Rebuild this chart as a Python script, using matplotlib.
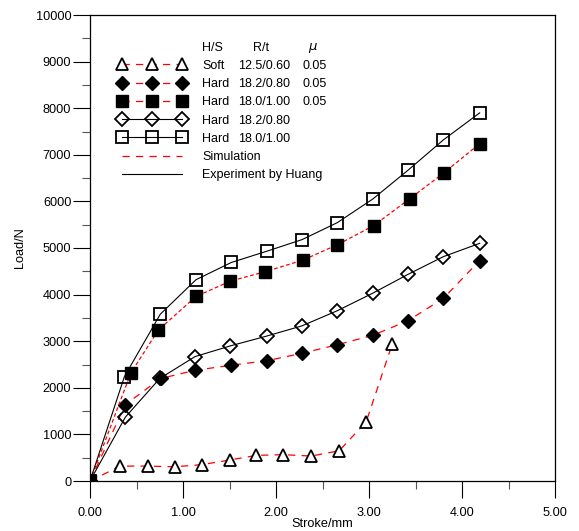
import matplotlib
matplotlib.use('Agg')
import matplotlib.pyplot as plt
from matplotlib.lines import Line2D
from matplotlib.ticker import MultipleLocator, FormatStrFormatter

plt.rcParams['font.family'] = ['Liberation Sans', 'DejaVu Sans']

# Hard 18.0/1.00 - experiment (open squares)
exp_sq_x = [0, 0.37, 0.756, 1.14, 1.52, 1.90, 2.28, 2.66, 3.04, 3.42, 3.80, 4.19]
exp_sq_y = [0, 2240, 3580, 4320, 4690, 4930, 5180, 5545, 6050, 6670, 7320, 7900]
# Hard 18.0/1.00 - simulation (filled squares)
sim_sq_x = [0, 0.44, 0.735, 1.14, 1.51, 1.88, 2.29, 2.66, 3.05, 3.44, 3.81, 4.19]
sim_sq_y = [0, 2320, 3240, 3960, 4290, 4490, 4740, 5070, 5480, 6060, 6620, 7240]
# Hard 18.2/0.80 - experiment (open diamonds)
exp_dia_x = [0, 0.38, 0.75, 1.13, 1.51, 1.90, 2.28, 2.66, 3.04, 3.42, 3.80, 4.19]
exp_dia_y = [0, 1370, 2200, 2670, 2900, 3110, 3330, 3655, 4030, 4435, 4815, 5100]
# Hard 18.2/0.80 - simulation (filled diamonds)
sim_dia_x = [0, 0.38, 0.76, 1.13, 1.52, 1.90, 2.28, 2.66, 3.04, 3.42, 3.80, 4.19]
sim_dia_y = [0, 1640, 2200, 2375, 2485, 2580, 2740, 2925, 3125, 3440, 3920, 4730]
# Soft 12.5/0.60 - simulation (triangles)
soft_x = [0, 0.325, 0.62, 0.91, 1.20, 1.50, 1.79, 2.08, 2.38, 2.68, 2.97, 3.25]
soft_y = [0, 320, 320, 305, 350, 450, 550, 565, 535, 650, 1270, 2940]

col_hs = ['H/S', 'Soft', 'Hard', 'Hard', 'Hard', 'Hard', 'Simulation', 'Experiment by Huang']
col_rt = ['R/t', '12.5/0.60', '18.2/0.80', '18.0/1.00', '18.2/0.80', '18.0/1.00', '', '']
col_mu = [r'$\mu$', '0.05', '0.05', '0.05', '', '', '', '']

dash = (0, (5.8, 5))
dot = (0, (3, 2))
fs = 9.2
lfs = 9
dms = 7.5

fig = plt.figure(figsize=(5.79, 5.31), dpi=100)
ax = fig.add_axes([90/579, 50/531, 465/579, 466/531])

ax.plot(soft_x, soft_y, color='red', ls=dash, lw=0.9, marker='^', ms=9,
        mfc='white', mec='black', mew=1.3, zorder=3)
ax.plot(sim_dia_x, sim_dia_y, color='red', ls=dash, lw=0.9, marker='D', ms=dms,
        mfc='black', mec='black', zorder=3)
ax.plot(exp_dia_x, exp_dia_y, color='black', ls='-', lw=0.8, marker='D', ms=dms,
        mfc='none', mec='black', mew=1.3, zorder=3)
ax.plot(sim_sq_x, sim_sq_y, color='red', ls=dot, lw=0.9, marker='s', ms=8,
        mfc='black', mec='black', zorder=3)
ax.plot(exp_sq_x, exp_sq_y, color='black', ls='-', lw=0.8, marker='s', ms=8,
        mfc='none', mec='black', mew=1.3, zorder=3)

ax.set_xlim(0, 5)
ax.set_ylim(0, 10000)
ax.xaxis.set_major_locator(MultipleLocator(1))
ax.xaxis.set_minor_locator(MultipleLocator(0.5))
ax.yaxis.set_major_locator(MultipleLocator(1000))
ax.yaxis.set_minor_locator(MultipleLocator(500))
ax.xaxis.set_major_formatter(FormatStrFormatter('%.2f'))
ax.tick_params(which='major', direction='out', length=12, width=0.8, labelsize=fs)
ax.tick_params(which='minor', direction='out', length=6, width=0.8, color='#555555')
ax.tick_params(axis='x', which='major', pad=7)
ax.tick_params(axis='y', which='major', pad=1.5)
for s in ax.spines.values():
    s.set_linewidth(0.9)
ax.set_xlabel('Stroke/mm', fontsize=fs, labelpad=-1)
ax.set_ylabel('Load/N', fontsize=fs, labelpad=7)

# legend
handles = [
    Line2D([], [], ls='none'),
    Line2D([], [], color='red', ls=dash, lw=0.9, marker='^', ms=9, mfc='white', mec='black', mew=1.3),
    Line2D([], [], color='red', ls=dash, lw=0.9, marker='D', ms=dms, mfc='black', mec='black'),
    Line2D([], [], color='red', ls=dash, lw=0.9, marker='s', ms=8, mfc='black', mec='black'),
    Line2D([], [], color='black', lw=0.8, marker='D', ms=dms, mfc='none', mec='black', mew=1.3),
    Line2D([], [], color='black', lw=0.8, marker='s', ms=8, mfc='none', mec='black', mew=1.3),
    Line2D([], [], color='red', ls=dash, lw=0.9),
    Line2D([], [], color='black', lw=0.8),
]
leg = ax.legend(handles, col_hs, loc='upper left', bbox_to_anchor=(0.060, 0.943),
                frameon=False, fontsize=lfs, numpoints=3, handlelength=5.45,
                handletextpad=1.28, labelspacing=0.5, borderpad=0, borderaxespad=0)

fig.canvas.draw()
inv = ax.transAxes.inverted()
for i, t in enumerate(leg.get_texts()):
    bb = t.get_window_extent()
    yc = inv.transform(((bb.x0 + bb.x1) / 2, (bb.y0 + bb.y1) / 2))[1]
    if i == 0:
        ax.text(0.3505, yc, col_rt[i], transform=ax.transAxes, fontsize=lfs, va='center')
        ax.text(0.469, yc, col_mu[i], transform=ax.transAxes, fontsize=lfs + 0.5, va='center')
    else:
        ax.text(0.3176, yc, col_rt[i], transform=ax.transAxes, fontsize=lfs, va='center')
        ax.text(0.4566, yc, col_mu[i], transform=ax.transAxes, fontsize=lfs, va='center')

fig.savefig('out.png', dpi=100)
